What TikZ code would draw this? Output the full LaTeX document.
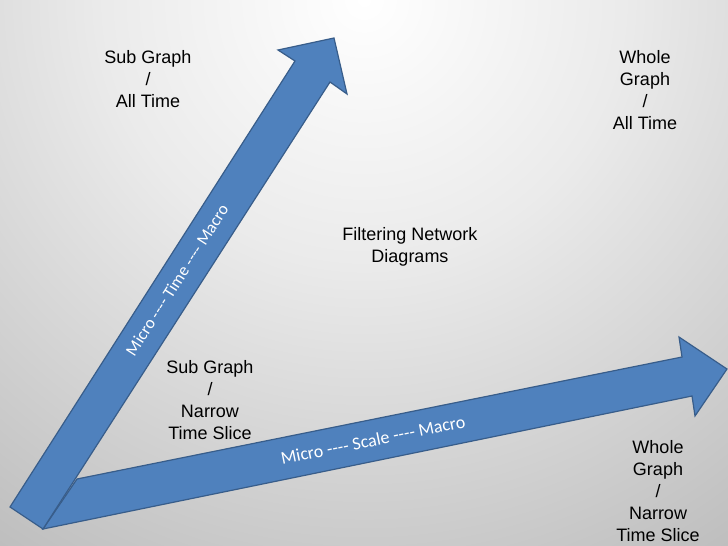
\documentclass[tikz,border=0pt]{standalone}
\usepackage{fontspec}
\setmainfont{Liberation Sans}
\newfontfamily\calib{Carlito}
\definecolor{arrowfill}{HTML}{4F81BD}
\definecolor{arrowline}{HTML}{385D8A}
\pgfdeclareradialshading{bgshade}{\pgfpoint{0bp}{0bp}}{color(0bp)=(white); color(10bp)=(black!8); color(28bp)=(black!29); color(50bp)=(black!45); color(75bp)=(black!50)}
\begin{document}
\begin{tikzpicture}[x=1pt,y=-1pt,
  bigarrow/.style={fill=arrowfill,draw=arrowline,line width=1.2pt,line join=miter},
  lbl/.style={align=center,anchor=north,inner sep=0pt,font=\fontsize{18}{22}\selectfont,text=black},
  axlbl/.style={inner sep=0pt,font=\calib\fontsize{18}{22}\selectfont,text=white}]
\useasboundingbox (0,0) rectangle (728,546);
\begin{scope}
\clip (0,0) rectangle (728,546);
\shade[shading=bgshade] (364,0) circle (656);
\end{scope}
% horizontal arrow
\draw[bigarrow] (43,529) -- (77,479) -- (682,357) -- (679,337) -- (727,369) -- (695,416) -- (692,396) -- cycle;
% upward arrow
\draw[bigarrow] (10,507) -- (295,61) -- (278,50) -- (334,38) -- (347,94) -- (330,82) -- (43,529) -- cycle;
\node[axlbl,rotate=57.4,font=\calib\fontsize{17}{20}\selectfont] (tl) at (177,280) {Micro ---- Time ---- Macro};
\node[axlbl,rotate=11.6] (sl) at (373,440) {Micro ---- Scale ---- Macro};
\node[lbl] (sga) at (148,50) {Sub Graph\\/\\All Time};
\node[lbl] (wga) at (645,50) {Whole\\Graph\\/\\All Time};
\node[lbl] (fnd) at (410,227) {Filtering Network\\Diagrams};
\node[lbl] (sgn) at (210,360) {Sub Graph\\/\\Narrow\\Time Slice};
\node[lbl] (wgn) at (658,440) {Whole\\Graph\\/\\Narrow\\Time Slice};
\end{tikzpicture}
\end{document}
